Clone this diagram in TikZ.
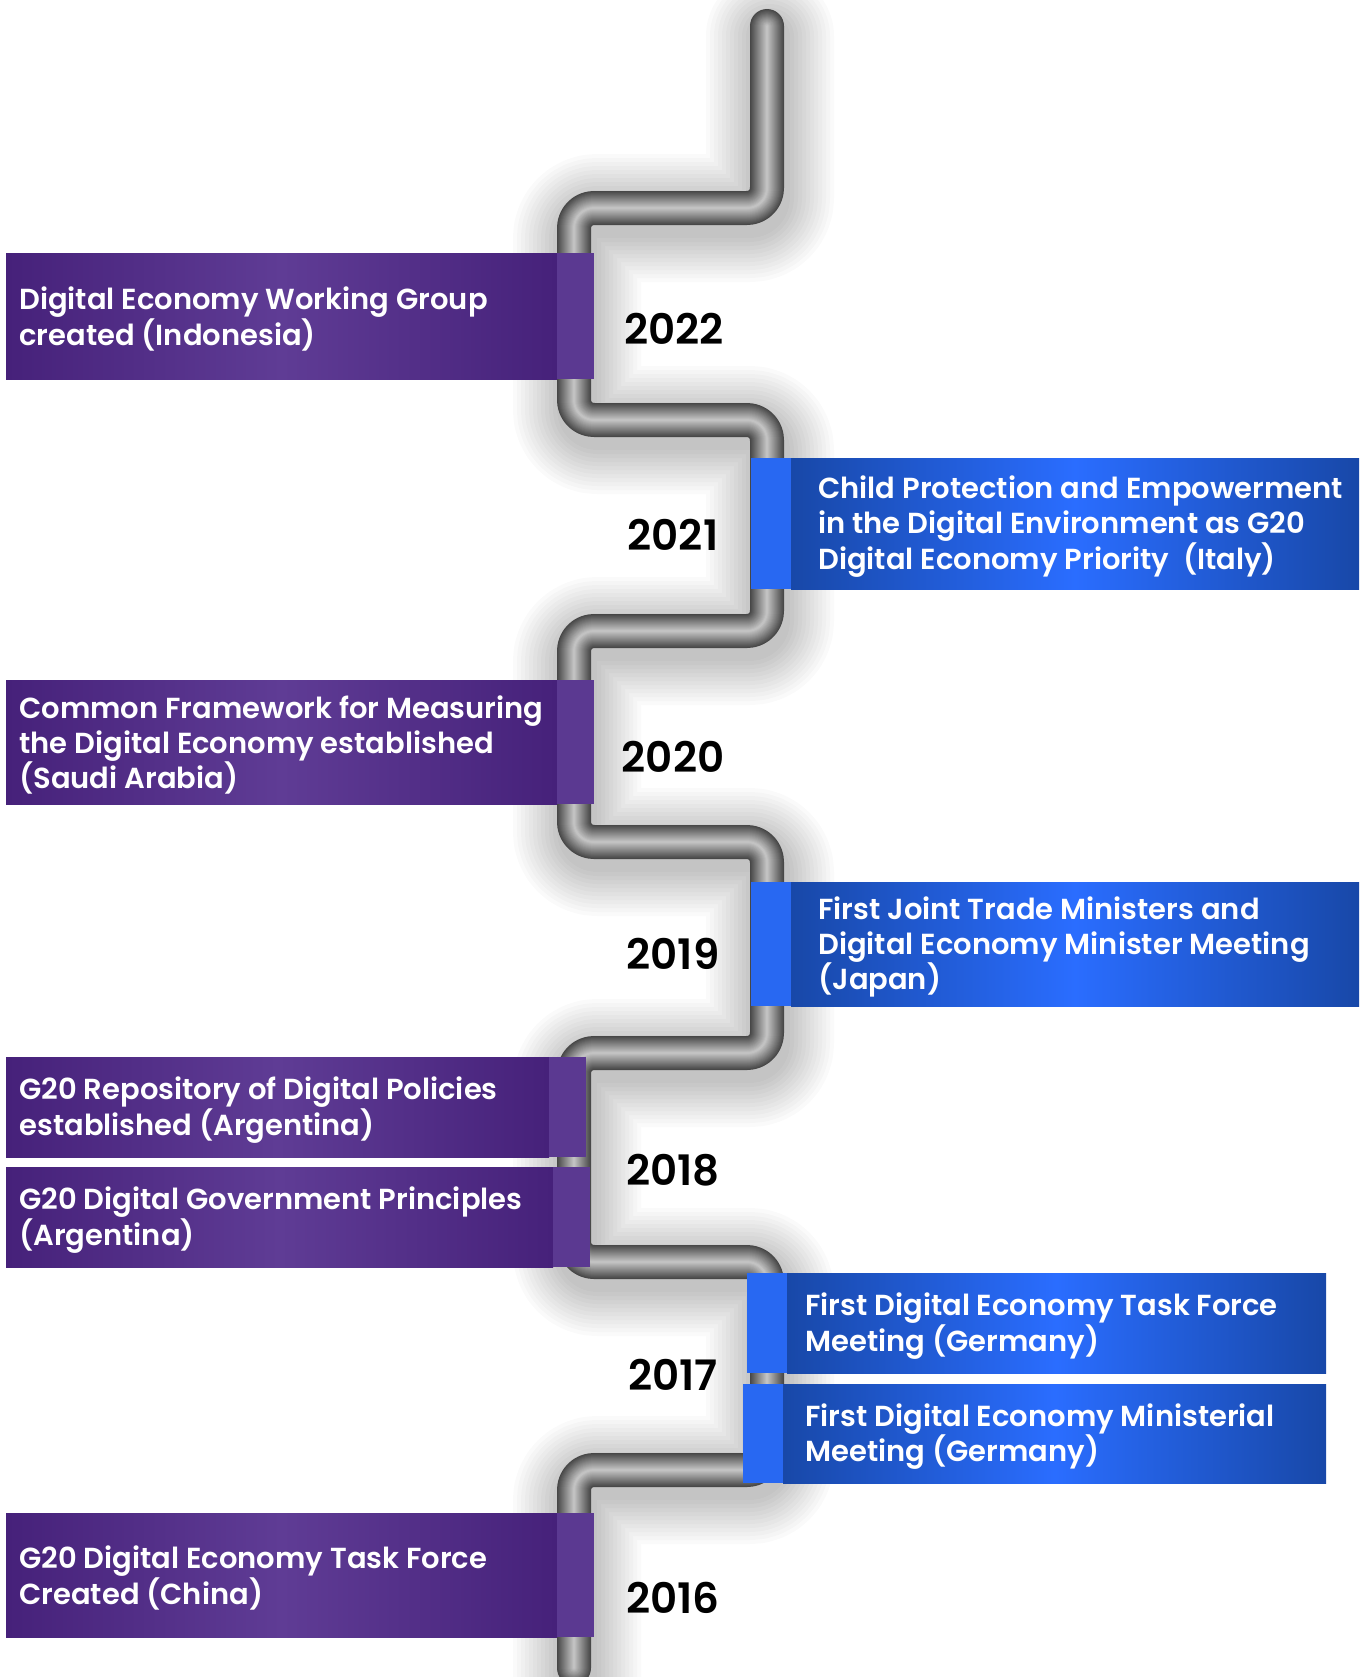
\documentclass[tikz,border=0pt]{standalone}
\usepackage{fontspec}
\setmainfont{Poppins}[BoldFont={Poppins SemiBold}]

\definecolor{purpledark}{HTML}{46217A}
\definecolor{purplelight}{HTML}{5F3C95}
\definecolor{purpleflap}{HTML}{5B3991}
\definecolor{bluedark}{HTML}{1848A8}
\definecolor{bluelight}{HTML}{2A6DFF}
\definecolor{bluestrip}{HTML}{2868F2}

\tikzset{
  pipe/.style={line cap=round, line join=round, rounded corners=10pt},
  purplebody/.style={left color=purpledark, right color=purpledark, middle color=purplelight},
  bluebody/.style={left color=bluedark, right color=bluedark, middle color=bluelight},
  bannertext/.style={text=white, font=\bfseries\fontsize{14.5}{17.6}\selectfont,
    align=left, anchor=west, inner sep=0pt},
  year/.style={text=black, font=\bfseries\fontsize{21}{25}\selectfont, inner sep=0pt},
}

% purple banner on the left: name, top, bottom, right end, text
\newcommand\leftbanner[5]{%
  \shade[purplebody] (6,#2) rectangle ({#4-37},#3);
  \fill[purpleflap] ({#4-37},#2) rectangle (#4,#3);
  \node[bannertext] (#1) at (19,{(#2+#3)/2+3}) {#5};
}
% blue banner on the right: name, left end, right end, top, bottom, text x, text
\newcommand\rightbanner[7]{%
  \fill[bluestrip] (#2,#4) rectangle ({#2+40},#5);
  \shade[bluebody] ({#2+40},#4) rectangle (#3,#5);
  \node[bannertext] (#1) at (#6,{(#4+#5)/2+3}) {#7};
}

\begin{document}
\begin{tikzpicture}[x=0.5pt, y=-0.5pt]
  \fill[white] (0,0) rectangle (1371,1677);
  \useasboundingbox (0,0) rectangle (1371,1677);

  % soft shadow under the pipe
  \foreach \i [evaluate=\i as \w using 40+8*\i] in {0,...,11} {
    \draw[pipe, line width=\w*0.5pt, black, opacity=0.02, shift={(3,10)}]
      (767,26) -- (767,208) -- (574,208) -- (574,420) -- (767,420) -- (767,631)
      -- (574,631) -- (574,842) -- (767,842) -- (767,1053) -- (574,1053)
      -- (574,1262) -- (767,1262) -- (767,1470) -- (574,1470) -- (574,1668);
  }

  % the pipe, lighter towards its middle
  \foreach \i [evaluate=\i as \w using 34-2*\i, evaluate=\i as \p using 72-3*\i] in {0,...,16} {
    \draw[pipe, line width=\w*0.5pt, draw=black!\p]
      (767,26) -- (767,208) -- (574,208) -- (574,420) -- (767,420) -- (767,631)
      -- (574,631) -- (574,842) -- (767,842) -- (767,1053) -- (574,1053)
      -- (574,1262) -- (767,1262) -- (767,1470) -- (574,1470) -- (574,1668);
  }

  % banners
  \leftbanner{e2022}{253}{379}{594}{Digital Economy Working Group\\created (Indonesia)}
  \rightbanner{e2021}{751}{1359}{458}{589}{818}{Child Protection and Empowerment\\in the Digital Environment as G20\\Digital Economy Priority\ \ (Italy)}
  \leftbanner{e2020}{680}{804}{594}{Common Framework for Measuring\\the Digital Economy established\\(Saudi Arabia)}
  \rightbanner{e2019}{751}{1359}{882}{1006}{818}{First Joint Trade Ministers and\\Digital Economy Minister Meeting\\(Japan)}
  \leftbanner{e2018a}{1057}{1157}{586}{G20 Repository of Digital Policies\\established (Argentina)}
  \leftbanner{e2018b}{1167}{1267}{590}{G20 Digital Government Principles\\(Argentina)}
  \rightbanner{e2017a}{747}{1326}{1273}{1373}{805}{First Digital Economy Task Force\\Meeting (Germany)}
  \rightbanner{e2017b}{743}{1326}{1384}{1483}{805}{First Digital Economy Ministerial\\Meeting (Germany)}
  \leftbanner{e2016}{1513}{1637}{594}{G20 Digital Economy Task Force\\Created (China)}

  % years
  \node[year] (y2022) at (674,329) {2022};
  \node[year] (y2021) at (673,535) {2021};
  \node[year] (y2020) at (673,757) {2020};
  \node[year] (y2019) at (673,954) {2019};
  \node[year] (y2018) at (673,1170) {2018};
  \node[year] (y2017) at (673,1375) {2017};
  \node[year] (y2016) at (673,1598) {2016};
\end{tikzpicture}
\end{document}
